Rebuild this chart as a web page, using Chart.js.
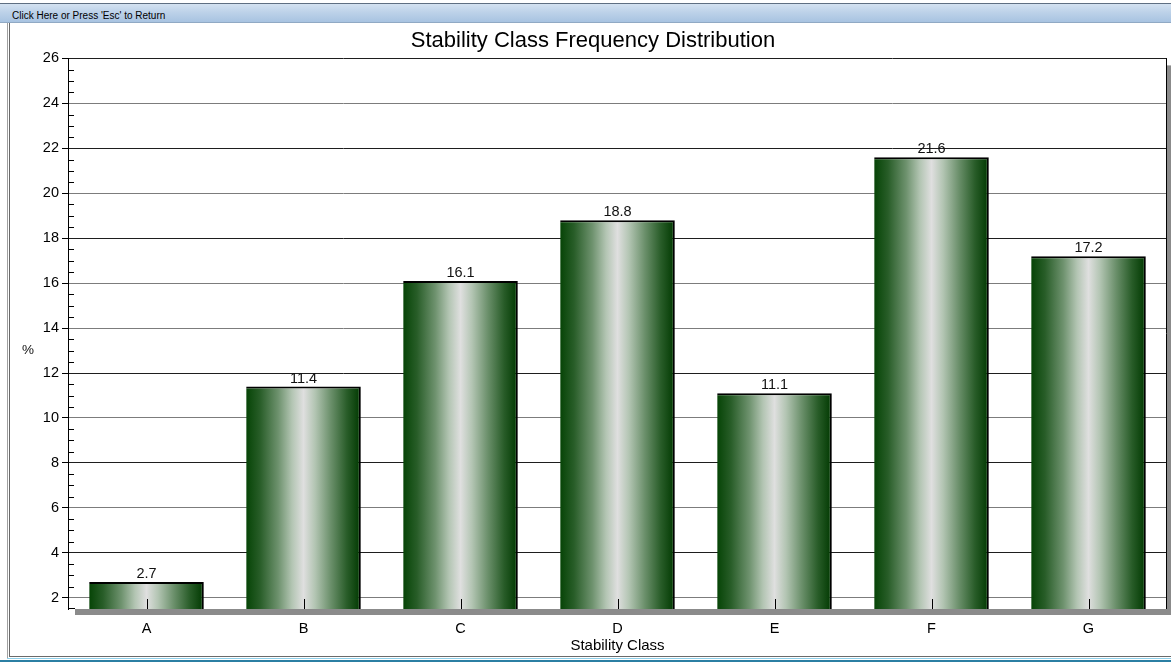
<!DOCTYPE html>
<html>
<head>
<meta charset="utf-8">
<title>Stability Class Frequency Distribution</title>
<script src="https://cdn.jsdelivr.net/npm/chart.js@4.4.1/dist/chart.umd.min.js"></script>
<style>
  html, body { margin: 0; padding: 0; background: #fff; width: 1171px; height: 662px; overflow: hidden;
    font-family: "Liberation Sans", Arial, sans-serif; }
  #returnBar { position: absolute; left: 0; top: 3px; width: 1171px; height: 20px; box-sizing: border-box; overflow: hidden;
    background: linear-gradient(#d4e2f1, #bdd2e9 45%, #a8c3e1);
    border-top: 1px solid #5f6f82; border-bottom: 1px solid #90a9c4;
    font-size: 10px; line-height: 23px; padding-left: 12px; color: #000; cursor: pointer; }
  #frameL1 { position: absolute; left: 7px; top: 23px; width: 1px; height: 636px; background: #a0a0a0; }
  #frameL2 { position: absolute; left: 9px; top: 23px; width: 1px; height: 634px; background: #6a6a6a; }
  #frameB1 { position: absolute; left: 9px; top: 656px; width: 1162px; height: 1px; background: #6a6a6a; }
  #frameB2 { position: absolute; left: 7px; top: 658px; width: 1164px; height: 1px; background: #8fd0ea; }
  #frameB3 { position: absolute; left: 0; top: 660px; width: 1171px; height: 2px; background: #2b7fa3; }
  #chartBox { position: absolute; left: 0; top: 0; width: 1171px; height: 662px; }
</style>
</head>
<body>
<div id="returnBar">Click Here or Press 'Esc' to Return</div>
<div id="frameL1"></div><div id="frameL2"></div>
<div id="frameB1"></div><div id="frameB2"></div><div id="frameB3"></div>
<div id="chartBox"><canvas id="chart" width="1171" height="662"></canvas></div>
<script>
// Stability classes and their frequency (%)
const categories = ['A', 'B', 'C', 'D', 'E', 'F', 'G'];
const frequency = [2.7, 11.4, 16.1, 18.8, 11.1, 21.6, 17.2];

// Value axis range and labelled ticks
const yMin = 1.5;
const yMax = 26;
const yTickValues = [2, 4, 6, 8, 10, 12, 14, 16, 18, 20, 22, 24, 26];
const yMinorStep = 0.5;

const FONT = '"Liberation Sans", Arial, sans-serif';
const BAR_PCT = 0.73;

// Horizontal cylinder-like shading of each bar
const barStops = [
  [0.00, '#064406'],
  [0.12, '#285d28'],
  [0.28, '#6e926e'],
  [0.40, '#b3c5b3'],
  [0.50, '#dfdfdf'],
  [0.60, '#b3c5b3'],
  [0.74, '#6a8f6a'],
  [0.88, '#285c28'],
  [1.00, '#003800']
];

function barFill(c) {
  const chart = c.chart;
  const a = chart.chartArea;
  const xs = chart.scales.x;
  if (!a || !xs) return '#2a5f2a';
  const x = xs.getPixelForValue(c.dataIndex);
  const w = (a.right - a.left) / categories.length * BAR_PCT;
  const g = chart.ctx.createLinearGradient(x - w / 2, 0, x + w / 2, 0);
  barStops.forEach(([o, col]) => g.addColorStop(o, col));
  return g;
}

// Gridlines: some drawn dark, others lighter
const darkGrid = [4, 8, 12, 18, 22, 26];

const plotDecor = {
  id: 'plotDecor',
  beforeDraw(chart) {
    const { ctx, chartArea: a } = chart;
    ctx.save();
    // drop shadow of the plot panel
    ctx.fillStyle = '#8b8b8b';
    ctx.fillRect(a.left + 7, a.top + 7, a.right - a.left, a.bottom - a.top - 1);
    ctx.fillStyle = '#ffffff';
    ctx.fillRect(a.left, a.top, a.right - a.left, a.bottom - a.top);
    ctx.restore();
  },
  afterDatasetsDraw(chart) {
    const { ctx, chartArea: a, scales } = chart;
    const ys = scales.y, xs = scales.x;
    ctx.save();
    ctx.strokeStyle = '#000';
    ctx.lineWidth = 1;
    ctx.beginPath();
    // right and bottom edges of the plot
    ctx.moveTo(Math.round(a.right) - 0.5, a.top);
    ctx.lineTo(Math.round(a.right) - 0.5, a.bottom);
    ctx.moveTo(a.left, Math.round(a.bottom) - 0.5);
    ctx.lineTo(a.left + 7, Math.round(a.bottom) - 0.5);
    // minor ticks on the value axis (inside)
    for (let v = yMin + yMinorStep; v < yMax; v += yMinorStep) {
      if (yTickValues.includes(v)) continue;
      const y = Math.round(ys.getPixelForValue(v)) + 0.5;
      ctx.moveTo(a.left, y);
      ctx.lineTo(a.left + 6, y);
    }
    // category ticks (inside, pointing up)
    categories.forEach((_, i) => {
      const x = Math.round(xs.getPixelForValue(i)) + 0.5;
      ctx.moveTo(x, a.bottom);
      ctx.lineTo(x, a.bottom - 10);
    });
    ctx.stroke();

    // value labels on top of bars
    ctx.fillStyle = '#111';
    ctx.font = '14.5px ' + FONT;
    ctx.textAlign = 'center';
    ctx.textBaseline = 'alphabetic';
    chart.getDatasetMeta(0).data.forEach((el, i) => {
      ctx.fillText(frequency[i].toFixed(1), el.x, el.y - 4);
    });
    ctx.restore();
  },
  afterDraw(chart) {
    const ctx = chart.ctx;
    ctx.save();
    ctx.fillStyle = '#111';
    ctx.font = '13.5px ' + FONT;
    ctx.textAlign = 'center';
    ctx.textBaseline = 'middle';
    ctx.fillText('%', 28, 350);
    ctx.restore();
  }
};

new Chart(document.getElementById('chart'), {
  type: 'bar',
  data: {
    labels: categories,
    datasets: [{
      label: 'Frequency (%)',
      data: frequency,
      backgroundColor: barFill,
      borderColor: '#000',
      borderWidth: { top: 2, right: 2, left: 0, bottom: 0 },
      borderSkipped: 'bottom',
      barPercentage: BAR_PCT,
      categoryPercentage: 1.0
    }]
  },
  options: {
    responsive: false,
    devicePixelRatio: 1,
    animation: false,
    layout: { padding: { top: 22, right: 4, bottom: 0, left: 19 } },
    plugins: {
      legend: { display: false },
      tooltip: { enabled: false },
      title: {
        display: true,
        text: 'Stability Class Frequency Distribution',
        color: '#000',
        font: { family: FONT, size: 22, weight: 'normal' },
        padding: { top: 6, bottom: 4 }
      }
    },
    scales: {
      x: {
        type: 'category',
        offset: true,
        grid: { display: false },
        border: { display: false },
        ticks: { color: '#000', font: { family: FONT, size: 14.5 }, padding: 3 },
        title: {
          display: true,
          text: 'Stability Class',
          color: '#000',
          font: { family: FONT, size: 15 },
          padding: { top: 0, bottom: 7 }
        },
        afterFit(s) { s.height = 53; }
      },
      y: {
        min: yMin,
        max: yMax,
        afterBuildTicks(s) { s.ticks = yTickValues.map(v => ({ value: v })); },
        afterFit(s) { s.width = 49; },
        grid: {
          color: c => (c.tick && darkGrid.includes(c.tick.value)) ? '#1e1e1e' : '#7c7c7c',
          tickColor: '#000',
          tickLength: 6,
          lineWidth: 1
        },
        border: { display: true, color: '#000', width: 1 },
        ticks: { color: '#000', font: { family: FONT, size: 14.5 }, padding: 3 }
      }
    }
  },
  plugins: [plotDecor]
});
</script>
</body>
</html>
